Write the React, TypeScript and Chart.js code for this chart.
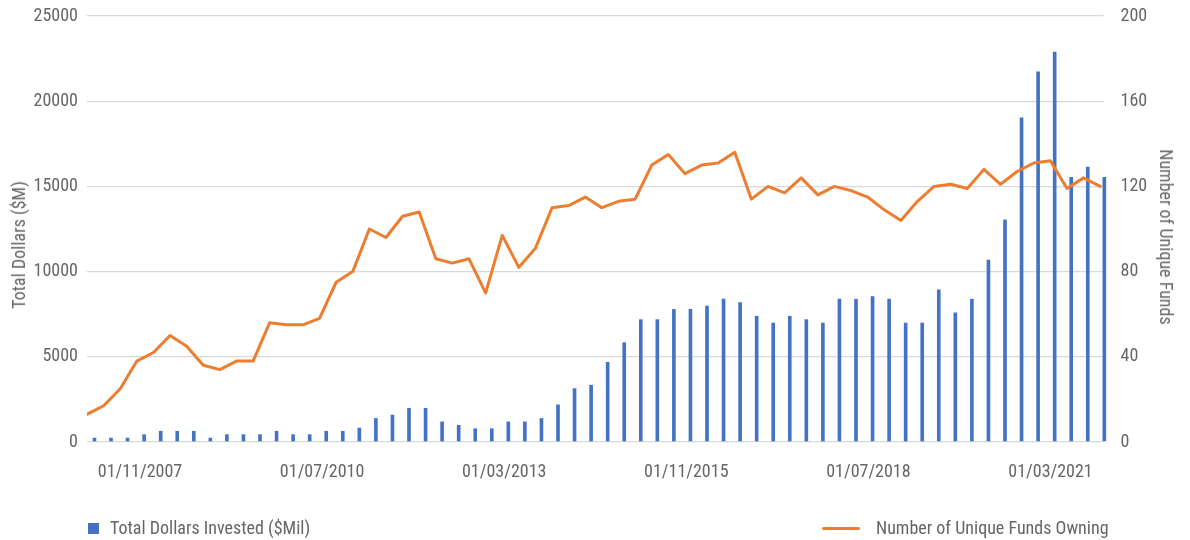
import React, { useEffect, useRef } from 'react';
import { Chart, registerables } from 'chart.js';

Chart.register(...registerables);

// Tick labels on the horizontal axis and the category index they sit under
const tickLabels = ['01/11/2007', '01/07/2010', '01/03/2013', '01/11/2015', '01/07/2018', '01/03/2021'];
const tickIndices = [3, 14, 25, 36, 47, 58];

// Total Dollars Invested ($Mil), one value per period (62 periods)
const dollarsInvested = [
  250, 250, 250, 450, 650, 650, 650, 250, 450, 450,
  450, 650, 450, 450, 650, 650, 840, 1400, 1600, 2000,
  2000, 1200, 1000, 800, 800, 1200, 1200, 1400, 2200, 3150,
  3350, 4700, 5850, 7200, 7200, 7800, 7800, 8000, 8400, 8200,
  7400, 7000, 7400, 7200, 7000, 8400, 8400, 8550, 8400, 7000,
  7000, 8950, 7600, 8400, 10700, 13050, 19050, 21750, 22900, 15550,
  16150, 15550,
];

// Number of Unique Funds Owning, one value per period
const uniqueFunds = [
  13, 17, 25, 38, 42, 50, 45, 36, 34, 38,
  38, 56, 55, 55, 58, 75, 80, 100, 96, 106,
  108, 86, 84, 86, 70, 97, 82, 91, 110, 111,
  115, 110, 113, 114, 130, 135, 126, 130, 131, 136,
  114, 120, 117, 124, 116, 120, 118, 115, 109, 104,
  113, 120, 121, 119, 128, 121, 127, 131, 132, 119,
  124, 120,
];

const leftTicks = [0, 5000, 10000, 15000, 20000, 25000];
const rightTicks = [0, 40, 80, 120, 160, 200];

const FONT = "'Liberation Sans Narrow', 'Arial Narrow', 'Roboto Condensed', 'DejaVu Sans Condensed', Roboto, sans-serif";
const TEXT = '#666666';
const BLUE = '#4472C4';
const ORANGE = '#ED7D31';
const GRID = '#d9d9d9';

export default function App() {
  const ref = useRef<HTMLCanvasElement>(null);

  useEffect(() => {
    document.body.style.margin = '0';
    const canvas = ref.current;
    if (!canvas) return;
    const barData = dollarsInvested.map((v, i) => ({ x: i, y: v }));
    const lineData = uniqueFunds.map((v, i) => ({ x: i, y: v }));
    const n = dollarsInvested.length;

    const chart = new Chart(canvas, {
      type: 'bar',
      data: {
        datasets: [
          {
            type: 'line',
            label: 'Number of Unique Funds Owning',
            data: lineData,
            xAxisID: 'x2',
            yAxisID: 'y1',
            borderColor: ORANGE,
            backgroundColor: ORANGE,
            borderWidth: 3,
            pointRadius: 0,
            tension: 0,
            borderJoinStyle: 'round',
            borderCapStyle: 'round',
            order: 0,
          } as any,
          {
            type: 'bar',
            label: 'Total Dollars Invested ($Mil)',
            data: barData,
            xAxisID: 'x',
            yAxisID: 'y',
            backgroundColor: BLUE,
            borderWidth: 0,
            barPercentage: 0.44,
            categoryPercentage: 1,
            clip: false,
            order: 1,
          } as any,
        ],
      },
      options: {
        responsive: false,
        animation: false,
        layout: { padding: { top: 16, left: 0, right: 0, bottom: 0 } },
        plugins: {
          legend: { display: false },
          tooltip: { enabled: false },
        },
        scales: {
          x: {
            type: 'linear',
            position: 'bottom',
            offset: false,
            min: -0.2,
            max: n - 1 + 0.2,
            grid: { display: false, drawTicks: false, offset: false },
            border: { display: false },
            afterBuildTicks: (scale: any) => {
              scale.ticks = tickIndices.map((v) => ({ value: v }));
            },
            afterFit: (scale: any) => {
              scale.height = 98;
              scale.paddingLeft = 0;
              scale.paddingRight = 0;
            },
            ticks: {
              autoSkip: false,
              maxRotation: 0,
              padding: 20,
              color: TEXT,
              font: { family: FONT, size: 18 },
              callback: (value: any) => {
                const k = tickIndices.indexOf(Number(value));
                return k >= 0 ? tickLabels[k] : '';
              },
            },
          },
          x2: {
            type: 'linear',
            display: false,
            offset: false,
            grid: { offset: false },
            min: 0,
            max: n - 1 + 0.2,
          },
          y: {
            type: 'linear',
            position: 'left',
            min: 0,
            max: 25000,
            afterBuildTicks: (scale: any) => {
              scale.ticks = leftTicks.map((v) => ({ value: v }));
            },
            afterFit: (scale: any) => {
              scale.width = 87;
              scale.paddingTop = 0;
              scale.paddingBottom = 0;
            },
            grid: { color: GRID, lineWidth: 1.3, drawTicks: false },
            border: { display: false },
            ticks: {
              padding: 9,
              color: TEXT,
              font: { family: FONT, size: 18 },
              callback: (v: any) => String(v),
            },
          },
          y1: {
            type: 'linear',
            position: 'right',
            min: 0,
            max: 200,
            afterBuildTicks: (scale: any) => {
              scale.ticks = rightTicks.map((v) => ({ value: v }));
            },
            afterFit: (scale: any) => {
              scale.width = 86.5;
              scale.paddingTop = 0;
              scale.paddingBottom = 0;
            },
            grid: { display: false, drawTicks: false },
            border: { display: false },
            ticks: {
              padding: 17,
              color: TEXT,
              font: { family: FONT, size: 18 },
              callback: (v: any) => String(v),
            },
          },
        },
      } as any,
    });
    return () => chart.destroy();
  }, []);

  const textStyle: React.CSSProperties = {
    fontFamily: FONT,
    fontSize: 18,
    color: TEXT,
    whiteSpace: 'nowrap',
    lineHeight: '20px',
  };

  return (
    <div style={{ position: 'relative', width: 1190, height: 540, overflow: 'hidden', background: '#fff' }}>
      <canvas ref={ref} width={1190} height={540} style={{ display: 'block', width: 1190, height: 540 }} />
      {/* Left axis title */}
      <div
        style={{
          ...textStyle,
          position: 'absolute',
          left: 19,
          top: 245,
          transform: 'translate(-50%, -50%) rotate(-90deg)',
        }}
      >
        Total Dollars ($M)
      </div>
      {/* Right axis title */}
      <div
        style={{
          ...textStyle,
          position: 'absolute',
          left: 1166,
          top: 237,
          transform: 'translate(-50%, -50%) rotate(90deg)',
        }}
      >
        Number of Unique Funds
      </div>
      {/* Legend */}
      <div style={{ position: 'absolute', left: 88, top: 518, display: 'flex', alignItems: 'center', height: 20 }}>
        <span style={{ display: 'inline-block', width: 11, height: 11, background: BLUE, marginRight: 11 }} />
        <span style={textStyle}>Total Dollars Invested ($Mil)</span>
      </div>
      <div style={{ position: 'absolute', left: 822, top: 518, display: 'flex', alignItems: 'center', height: 20 }}>
        <span style={{ display: 'inline-block', width: 38, height: 3, background: ORANGE, borderRadius: 2, marginRight: 16 }} />
        <span style={textStyle}>Number of Unique Funds Owning</span>
      </div>
    </div>
  );
}
